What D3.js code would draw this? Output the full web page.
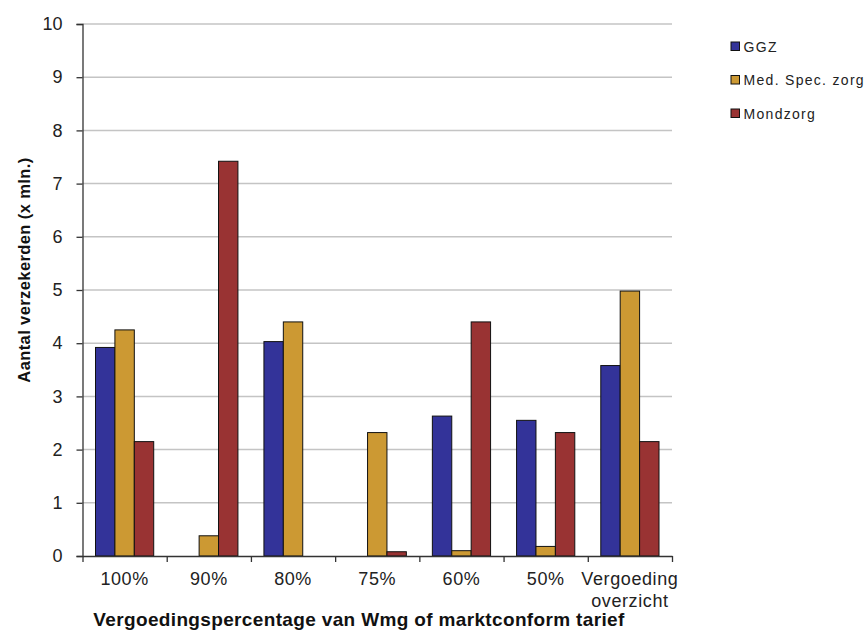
<!DOCTYPE html>
<html>
<head>
<meta charset="utf-8">
<script src="https://cdn.jsdelivr.net/npm/d3@7"></script>
<style>
  body { margin: 0; background: #fff; }
  svg { font-family: Arial, "Liberation Sans", sans-serif; }
</style>
</head>
<body>
<div id="chart"></div>
<script>
// data
const categories = ["100%", "90%", "80%", "75%", "60%", "50%", "Vergoeding overzicht"];
const seriesNames = ["GGZ", "Med. Spec. zorg", "Mondzorg"];
const ggz = [3.92, 0, 4.03, 0, 2.63, 2.55, 3.58];
const medSpec = [4.25, 0.38, 4.4, 2.32, 0.1, 0.18, 4.98];
const mondzorg = [2.15, 7.42, 0, 0.08, 4.4, 2.32, 2.15];
const yTicks = [0, 1, 2, 3, 4, 5, 6, 7, 8, 9, 10];
const colors = ["#333399", "#cc9933", "#993333"];

const values = [ggz, medSpec, mondzorg];

const svgWidth = 867, svgHeight = 631;
const plot = {left: 82.5, right: 672, top: 24, bottom: 556};

const svg = d3.select("#chart").append("svg")
    .attr("width", svgWidth)
    .attr("height", svgHeight);

const x = d3.scaleBand()
    .domain(categories)
    .range([plot.left, plot.right])
    .padding(0);

const x1 = d3.scaleBand()
    .domain(seriesNames)
    .range([13, x.bandwidth() - 13]);

const y = d3.scaleLinear()
    .domain([0, 10])
    .range([plot.bottom, plot.top]);

// gridlines
svg.append("g")
  .selectAll("line")
  .data(yTicks.slice(1))
  .join("line")
    .attr("x1", plot.left)
    .attr("x2", plot.right)
    .attr("y1", d => y(d))
    .attr("y2", d => y(d))
    .attr("stroke", "#c4c4c4")
    .attr("stroke-width", 1.5);

// bars
const groups = svg.append("g")
  .selectAll("g")
  .data(categories)
  .join("g")
    .attr("transform", d => "translate(" + x(d) + ",0)");

groups.selectAll("rect")
  .data((c, i) => seriesNames.map((s, j) => ({s: s, j: j, v: values[j][i]})).filter(d => d.v > 0))
  .join("rect")
    .attr("x", d => x1(d.s))
    .attr("y", d => y(d.v))
    .attr("width", x1.bandwidth())
    .attr("height", d => plot.bottom - y(d.v))
    .attr("fill", d => colors[d.j])
    .attr("stroke", "#111")
    .attr("stroke-width", 1);

// y axis
const yAxis = svg.append("g")
    .attr("transform", "translate(" + plot.left + ",0)")
    .call(d3.axisLeft(y).tickValues(yTicks).tickSize(6).tickPadding(14));
yAxis.select(".domain").attr("stroke", "#333").attr("stroke-width", 1.3);
yAxis.selectAll(".tick line").attr("stroke", "#333").attr("stroke-width", 1.3);
yAxis.selectAll(".tick text")
    .attr("font-size", 18)
    .attr("fill", "#222")
    .attr("font-family", "Arial, 'Liberation Sans', sans-serif");

// x axis: ticks on band boundaries
const xb = d3.scaleLinear().domain([0, categories.length]).range([plot.left, plot.right]);
const xAxisTicks = svg.append("g")
    .attr("transform", "translate(0," + plot.bottom + ")")
    .call(d3.axisBottom(xb).tickValues(d3.range(categories.length + 1)).tickSize(6).tickSizeOuter(0).tickFormat(""));
xAxisTicks.select(".domain").attr("stroke", "#333").attr("stroke-width", 1.3);
xAxisTicks.selectAll(".tick line").attr("stroke", "#333").attr("stroke-width", 1.3);

// x axis labels
const xAxis = svg.append("g")
    .attr("transform", "translate(0," + plot.bottom + ")")
    .call(d3.axisBottom(x).tickSize(0).tickPadding(0));
xAxis.select(".domain").remove();
xAxis.selectAll(".tick text").remove();
xAxis.selectAll(".tick").each(function(d) {
  const words = d === "Vergoeding overzicht" ? ["Vergoeding", "overzicht"] : [d];
  const t = d3.select(this).append("text")
      .attr("text-anchor", "middle")
      .attr("font-size", 18)
      .attr("letter-spacing", "0.6px")
      .attr("fill", "#222")
      .attr("font-family", "Arial, 'Liberation Sans', sans-serif");
  words.forEach((w, i) => {
    t.append("tspan").attr("x", 0).attr("y", 28.5 + i * 22.5).text(w);
  });
});

// axis titles
svg.append("text")
    .attr("x", 359)
    .attr("y", 626)
    .attr("text-anchor", "middle")
    .attr("font-size", 19)
    .attr("font-weight", "bold")
    .attr("letter-spacing", "0.35px")
    .attr("fill", "#111")
    .text("Vergoedingspercentage van Wmg of marktconform tarief");

svg.append("text")
    .attr("transform", "translate(30,270) rotate(-90)")
    .attr("text-anchor", "middle")
    .attr("font-size", 16.5)
    .attr("font-weight", "bold")
    .attr("letter-spacing", "0.4px")
    .attr("fill", "#111")
    .text("Aantal verzekerden (x mln.)");

// legend
const legend = svg.append("g")
  .selectAll("g")
  .data(seriesNames)
  .join("g")
    .attr("transform", (d, i) => "translate(731," + (42 + i * 33.5) + ")");
legend.append("rect")
    .attr("width", 8.5)
    .attr("height", 8.5)
    .attr("fill", (d, i) => colors[i])
    .attr("stroke", "#111")
    .attr("stroke-width", 1);
legend.append("text")
    .attr("x", 12.5)
    .attr("y", 9.5)
    .attr("font-size", 14)
    .attr("letter-spacing", "1.3px")
    .attr("fill", "#222")
    .text(d => d);
</script>
</body>
</html>
